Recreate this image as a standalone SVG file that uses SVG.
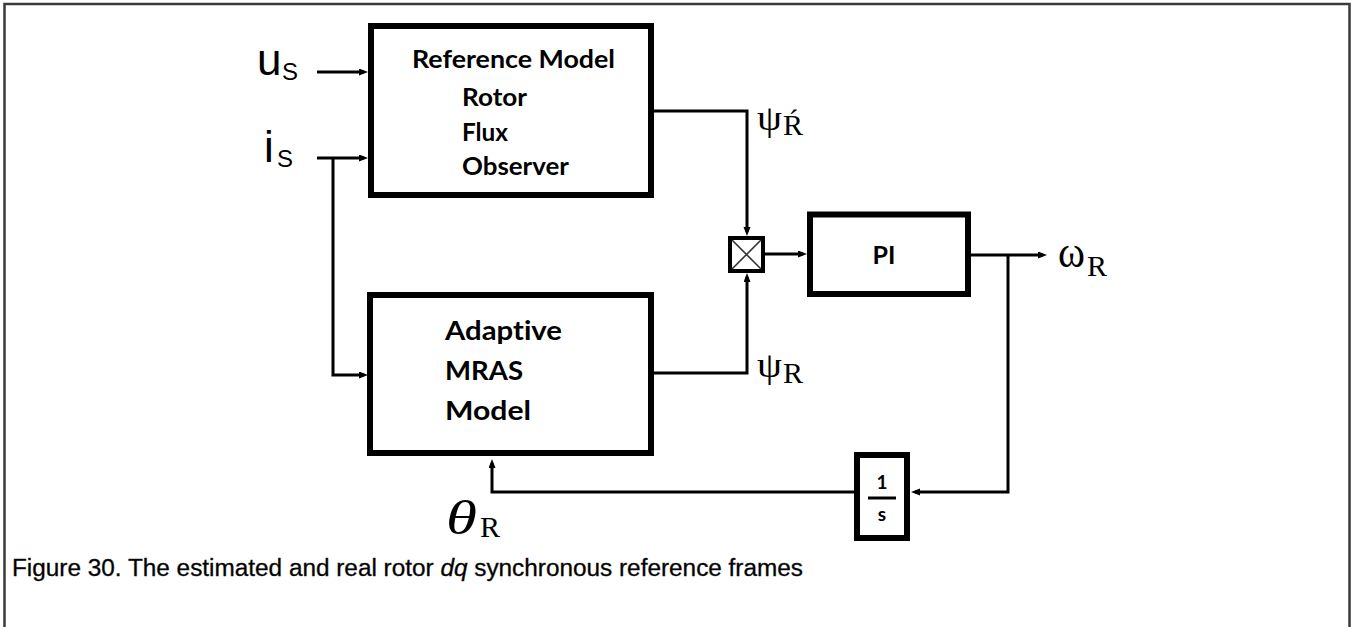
<svg xmlns="http://www.w3.org/2000/svg" width="1352" height="627" viewBox="0 0 1352 627">
<style>
.blk{fill:#fff;stroke:#000;stroke-width:6}
.cn{fill:none;stroke:#000;stroke-width:3}
.lb{font-family:Lato,"Open Sans",sans-serif;font-weight:bold;fill:#000;font-variant-ligatures:none}
.sans{font-family:"Liberation Sans",Arial,sans-serif;fill:#000}
.ser{font-family:"Liberation Serif","Times New Roman",serif;fill:#000}
</style>
<defs>
<marker id="ah" markerUnits="userSpaceOnUse" markerWidth="10" markerHeight="8" refX="5" refY="3.5" orient="auto">
<path d="M0,0 L9,3.5 L0,7 z" fill="#000"/>
</marker>
</defs>
<rect x="0" y="0" width="1352" height="627" fill="#fff"/>
<rect x="4.5" y="4" width="1345" height="640" fill="none" stroke="#3a3a3a" stroke-width="2.5"/>

<g id="connectors">
<path class="cn" d="M317,72 H364" marker-end="url(#ah)"/>
<path class="cn" d="M317,158 H364" marker-end="url(#ah)"/>
<path class="cn" d="M333,158 V375 H364" marker-end="url(#ah)"/>
<path class="cn" d="M654,111 H747 V232" marker-end="url(#ah)"/>
<path class="cn" d="M654,373 H747 V277" marker-end="url(#ah)"/>
<path class="cn" d="M763,254 H803" marker-end="url(#ah)"/>
<path class="cn" d="M971,255 H1043" marker-end="url(#ah)"/>
<path class="cn" d="M1008,255 V492 H915" marker-end="url(#ah)"/>
<path class="cn" d="M854,492 H492 V463" marker-end="url(#ah)"/>
</g>

<g id="ref-model">
<rect class="blk" x="371" y="26" width="280" height="169"/>
<text class="lb" x="412" y="68" font-size="24.5" textLength="203" lengthAdjust="spacingAndGlyphs">Reference Model</text>
<text class="lb" x="462" y="106" font-size="24.5" textLength="65" lengthAdjust="spacingAndGlyphs">Rotor</text>
<text class="lb" x="462" y="141" font-size="24.5" textLength="46" lengthAdjust="spacingAndGlyphs">Flux</text>
<text class="lb" x="462" y="175" font-size="24.5" textLength="107" lengthAdjust="spacingAndGlyphs">Observer</text>
</g>

<g id="adaptive-model">
<rect class="blk" x="370" y="295" width="281" height="158"/>
<text class="lb" x="445" y="340" font-size="27" textLength="117" lengthAdjust="spacingAndGlyphs">Adaptive</text>
<text class="lb" x="445" y="380" font-size="27" textLength="78" lengthAdjust="spacingAndGlyphs">MRAS</text>
<text class="lb" x="445" y="420" font-size="27" textLength="86" lengthAdjust="spacingAndGlyphs">Model</text>
</g>

<g id="junction">
<rect x="730" y="238" width="33" height="33" fill="#fff" stroke="#000" stroke-width="4"/>
<path d="M732,240 L761,269 M761,240 L732,269" stroke="#333" stroke-width="1.6"/>
</g>

<g id="pi">
<rect class="blk" x="810" y="214.5" width="158" height="79.5"/>
<text class="lb" x="884" y="264" font-size="25" text-anchor="middle">PI</text>
</g>

<g id="integrator">
<rect class="blk" x="857" y="455" width="50" height="83"/>
<text class="lb" x="882" y="489" font-size="19" text-anchor="middle">1</text>
<line x1="868" y1="498" x2="896" y2="498" stroke="#000" stroke-width="3"/>
<text class="lb" x="882" y="521" font-size="19" text-anchor="middle">s</text>
</g>

<g id="label-us">
<text class="sans" x="257" y="75" font-size="44">u</text>
<text class="sans" x="282" y="80" font-size="24">S</text>
</g>
<g id="label-is">
<text class="sans" x="264" y="162" font-size="44">i</text>
<text class="sans" x="277" y="167" font-size="24">S</text>
</g>
<g id="label-psi-ref">
<text class="ser" x="757" y="130" font-size="36" textLength="25" lengthAdjust="spacingAndGlyphs">ψ</text>
<text class="ser" x="783" y="135" font-size="30">Ŕ</text>
</g>
<g id="label-psi">
<text class="ser" x="757" y="377" font-size="36" textLength="25" lengthAdjust="spacingAndGlyphs">ψ</text>
<text class="ser" x="783" y="383" font-size="30">R</text>
</g>
<g id="label-omega">
<text class="ser" x="1058" y="267" font-size="44" textLength="27" lengthAdjust="spacingAndGlyphs">ω</text>
<text class="ser" x="1087" y="276" font-size="30">R</text>
</g>
<g id="label-theta">
<text class="ser" x="446" y="534" font-size="48" font-style="italic" textLength="31" lengthAdjust="spacingAndGlyphs">θ</text>
<text class="ser" x="480" y="537" font-size="30">R</text>
</g>

<text class="sans" x="12" y="576" font-size="23.5" fill="#1a1a1a" stroke="#1a1a1a" stroke-width="0.35" textLength="791" lengthAdjust="spacingAndGlyphs">Figure 30.  The estimated and real rotor <tspan font-style="italic">dq</tspan> synchronous reference frames</text>
</svg>
